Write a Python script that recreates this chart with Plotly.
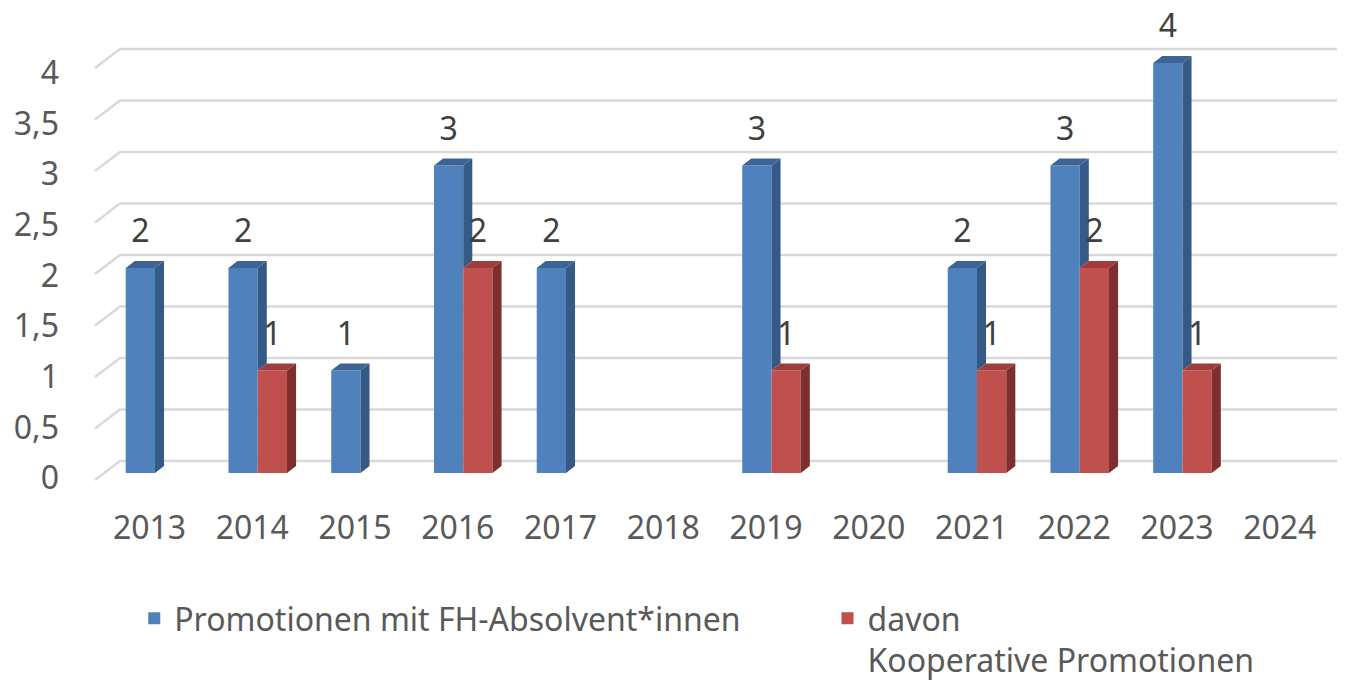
import plotly.graph_objects as go

# ---------------- data ----------------
years = ["2013", "2014", "2015", "2016", "2017", "2018",
         "2019", "2020", "2021", "2022", "2023", "2024"]
promotionen = [2, 2, 1, 3, 2, None, 3, None, 2, 3, 4, None]
kooperativ = [None, 1, None, 2, None, None, 1, None, 1, 2, 1, None]
y_tick_vals = [0, 0.5, 1, 1.5, 2, 2.5, 3, 3.5, 4]
y_tick_text = ["0", "0,5", "1", "1,5", "2", "2,5", "3", "3,5", "4"]
name_blue = "Promotionen mit FH-Absolvent*innen"
name_red = "davon<br>Kooperative Promotionen"

# ---------------- style ----------------
FONT = "Noto Sans"
TXT = "#595959"
LBL = "#404040"
GRID = "#D9D9D9"
BLUE, BLUE_SIDE, BLUE_TOP = "#4F81BD", "#365A86", "#3D6494"
RED, RED_SIDE, RED_TOP = "#C0504D", "#7E2F2D", "#9E3D3B"

W = 0.285          # bar width (category units)
DX = 0.088         # depth offset (x units)
DY = 0.068         # depth offset (y units)
LIFT = 0.33        # label lift above bar front top
idx = list(range(len(years)))

# plot area geometry (figure pixels)
PW, PH = 1250, 497
S = 102.75          # px per category


def faces(vals, offset, base_vals=None):
    sx, sy, tx, ty = [], [], [], []
    for i, v in enumerate(vals):
        if v is None:
            continue
        a = i + offset
        b = a + W
        base = 0
        if base_vals is not None and base_vals[i] is not None:
            base = base_vals[i]
        if v > base:
            sx += [b, b + DX, b + DX, b, b, None]
            sy += [base, base + DY, v + DY, v, base, None]
        tx += [a, a + DX, b + DX, b, a, None]
        ty += [v, v + DY, v + DY, v, v, None]
    return sx, sy, tx, ty


fig = go.Figure()

fig.add_trace(go.Bar(x=idx, y=promotionen, width=W, offset=-W, name=name_blue,
                     legend="legend",
                     marker=dict(color=BLUE, line=dict(width=0)), hoverinfo="skip"))
fig.add_trace(go.Bar(x=idx, y=kooperativ, width=W, offset=0, name=name_red,
                     legend="legend2",
                     marker=dict(color=RED, line=dict(width=0)), hoverinfo="skip"))

bsx, bsy, btx, bty = faces(promotionen, -W, kooperativ)
rsx, rsy, rtx, rty = faces(kooperativ, 0)
for xs, ys, col in [(bsx, bsy, BLUE_SIDE), (btx, bty, BLUE_TOP),
                    (rsx, rsy, RED_SIDE), (rtx, rty, RED_TOP)]:
    fig.add_trace(go.Scatter(x=xs, y=ys, fill="toself", fillcolor=col, mode="lines",
                             line=dict(width=0, color=col), showlegend=False,
                             hoverinfo="skip"))

# data labels
for vals, off in [(promotionen, -W / 2), (kooperativ, W / 2)]:
    xs = [i + off for i, v in enumerate(vals) if v is not None]
    ys = [v + LIFT for v in vals if v is not None]
    ts = [str(v) for v in vals if v is not None]
    fig.add_trace(go.Scatter(x=xs, y=ys, text=ts, mode="text", textposition="middle center",
                             textfont=dict(family=FONT, size=32, color=LBL),
                             cliponaxis=False, showlegend=False, hoverinfo="skip"))

# dummy traces so overlay axes exist
fig.add_trace(go.Scatter(x=[0], y=[0], xaxis="x2", yaxis="y2", mode="markers",
                         marker=dict(opacity=0), showlegend=False, hoverinfo="skip"))
fig.add_trace(go.Scatter(x=[0], y=[0], xaxis="x", yaxis="y3", mode="markers",
                         marker=dict(opacity=0), showlegend=False, hoverinfo="skip"))

# back-wall gridlines with slanted left ends
for v in y_tick_vals:
    fig.add_shape(type="path", xref="paper", yref="y3", layer="below",
                  path=f"M 0,{v - 0.184} L 0.02,{v} L 1,{v}",
                  line=dict(color=GRID, width=2.5))

legend_common = dict(orientation="h", xanchor="left", yanchor="top", valign="top",
                     font=dict(family=FONT, size=32, color=TXT),
                     bgcolor="rgba(0,0,0,0)")
fig.update_layout(
    width=1345, height=683,
    margin=dict(l=87, r=8, t=0, b=186, autoexpand=False),
    paper_bgcolor="white", plot_bgcolor="white",
    font=dict(family=FONT, color=TXT),
    showlegend=True,
    xaxis=dict(range=[-60 / S, -60 / S + PW / S], visible=False, fixedrange=True),
    xaxis2=dict(range=[-54.5 / S, -54.5 / S + PW / S], overlaying="x", anchor="y",
                side="bottom", tickvals=idx, ticktext=years, showgrid=False,
                zeroline=False, showline=False, ticks="", ticklabelstandoff=1,
                tickfont=dict(family=FONT, size=32, color=TXT)),
    yaxis=dict(range=[-32 / 102.5, -32 / 102.5 + PH / 102.5], visible=False),
    yaxis2=dict(range=[-27 / 101.25, -27 / 101.25 + PH / 101.25], overlaying="y",
                anchor="x", side="left", tickvals=y_tick_vals, ticktext=y_tick_text,
                showgrid=False, zeroline=False, showline=False, ticks="",
                ticklabelstandoff=35, tickfont=dict(family=FONT, size=32, color=TXT)),
    yaxis3=dict(range=[-44 / 103, -44 / 103 + PH / 103], overlaying="y", visible=False),
    legend=dict(x=0.0314, y=-0.173, **legend_common),
    legend2=dict(x=0.586, y=-0.173, **legend_common),
)

fig.write_html("out.html")
